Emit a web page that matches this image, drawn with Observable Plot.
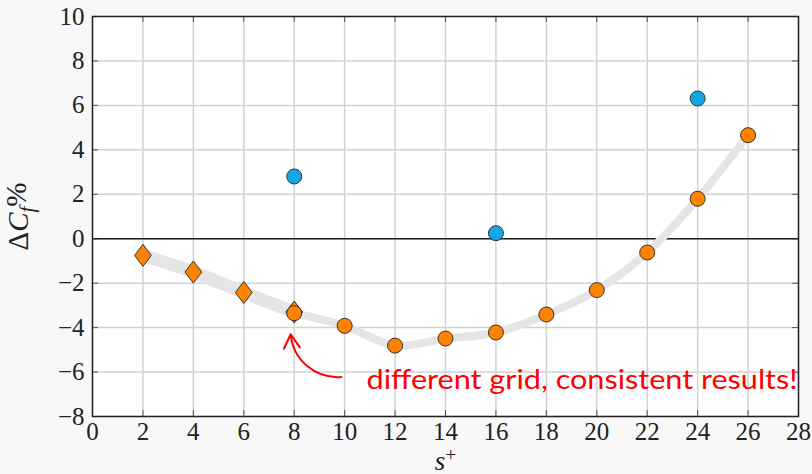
<!DOCTYPE html>
<html>
<head>
<meta charset="utf-8">
<script src="https://cdn.jsdelivr.net/npm/d3@7"></script>
<script src="https://cdn.jsdelivr.net/npm/@observablehq/plot@0.6"></script>
<style>
  html, body { margin: 0; padding: 0; background: #f8f8f8; }
  #chart { width: 812px; height: 474px; }
</style>
</head>
<body>
<div id="chart"></div>
<script>
// ---- data ----
const xTicks = [0, 2, 4, 6, 8, 10, 12, 14, 16, 18, 20, 22, 24, 26, 28];
const yTicks = [-8, -6, -4, -2, 0, 2, 4, 6, 8, 10];

const diamondX = [2, 4, 6, 8];
const diamondY = [-0.75, -1.5, -2.42, -3.3];

const orangeX = [8, 10, 12, 14, 16, 18, 20, 22, 24, 26];
const orangeY = [-3.35, -3.92, -4.81, -4.49, -4.22, -3.41, -2.31, -0.62, 1.8, 4.66];

const blueX = [8, 16, 24];
const blueY = [2.8, 0.25, 6.31];

const noteText = ["different grid, consistent results!"];
const noteX = [10.87];
const noteY = [-6.38];
const arrowFrom = [{x: 9.87, y: -6.22}];
const arrowTo = [{x: 7.86, y: -4.3}];

// ---- build tables ----
const diamonds = diamondX.map((x, i) => ({x, y: diamondY[i]}));
const oranges = orangeX.map((x, i) => ({x, y: orangeY[i]}));
const blues = blueX.map((x, i) => ({x, y: blueY[i]}));
const notes = noteText.map((t, i) => ({t, x: noteX[i], y: noteY[i]}));
const arrows = arrowFrom.map((a, i) => ({x1: a.x, y1: a.y, x2: arrowTo[i].x, y2: arrowTo[i].y}));

const ORANGE = "#ff8200";
const BLUE = "#12a6e4";
const BAND = "#e5e5e5";
const fmt = d3.format("d");

const diamondSymbol = {
  draw(ctx, size) {
    const r = Math.sqrt(size / Math.PI);
    const hw = r * 1.12, hh = r * 1.47;
    ctx.moveTo(0, -hh); ctx.lineTo(hw, 0); ctx.lineTo(0, hh); ctx.lineTo(-hw, 0); ctx.closePath();
  }
};

const W = 812, H = 474, ML = 92, MR = 14, MT = 16, MB = 58;
const PW = W - ML - MR, PH = H - MT - MB;

const chart = Plot.plot({
  width: W, height: H,
  marginLeft: ML, marginRight: MR, marginTop: MT, marginBottom: MB,
  style: {fontFamily: "'Liberation Serif', 'DejaVu Serif', serif", fontSize: "25px", color: "#222", background: "transparent", overflow: "visible"},
  x: {domain: [0, 28], ticks: xTicks, tickSize: 0, tickPadding: 6, tickFormat: fmt, label: "s+", labelAnchor: "center", labelOffset: 53, labelArrow: "none"},
  y: {domain: [-8, 10], ticks: yTicks, tickSize: 0, tickPadding: 8, tickFormat: fmt, label: "ΔCf%", labelAnchor: "center", labelOffset: 85, labelArrow: "none"},
  marks: [
    Plot.frame({fill: "white"}),
    Plot.gridX(xTicks, {stroke: "#d2d2d2", strokeOpacity: 1, strokeWidth: 1.5}),
    Plot.gridY(yTicks, {stroke: "#d2d2d2", strokeOpacity: 1, strokeWidth: 1.5}),
    Plot.tickX(xTicks, {x: d => d, insetTop: PH - 6, stroke: "#555", strokeWidth: 1}),
    Plot.tickX(xTicks, {x: d => d, insetBottom: PH - 6, stroke: "#555", strokeWidth: 1}),
    Plot.tickY(yTicks, {y: d => d, insetRight: PW - 6, stroke: "#555", strokeWidth: 1}),
    Plot.tickY(yTicks, {y: d => d, insetLeft: PW - 6, stroke: "#555", strokeWidth: 1}),
    Plot.ruleY([0], {stroke: "#222", strokeWidth: 1.6}),
    Plot.line(diamonds, {x: "x", y: "y", stroke: BAND, strokeWidth: 13, curve: "catmull-rom"}),
    Plot.line(oranges, {x: "x", y: "y", stroke: BAND, strokeWidth: 8, curve: "catmull-rom"}),
    Plot.dot(diamonds, {x: "x", y: "y", symbol: diamondSymbol, r: 7.5, fill: ORANGE, stroke: "#333", strokeWidth: 1}),
    Plot.dot(oranges, {x: "x", y: "y", r: 7.5, fill: ORANGE, stroke: "#333", strokeWidth: 1}),
    Plot.dot(blues, {x: "x", y: "y", r: 7.5, fill: BLUE, stroke: "#333", strokeWidth: 1}),
    Plot.frame({stroke: "#222", strokeWidth: 1.5}),
    Plot.arrow(arrows, {x1: "x1", y1: "y1", x2: "x2", y2: "y2", bend: 45, stroke: "#ff0000", strokeWidth: 2, headLength: 12}),
    Plot.text(notes, {x: "x", y: "y", text: "t", textAnchor: "start", fill: "#ff0000", fontFamily: "Lato, 'Open Sans', sans-serif", fontSize: 26, className: "note"})
  ]
});

document.getElementById("chart").appendChild(chart);

// styled axis labels
const svg = d3.select(chart);
svg.selectAll("text").each(function () {
  const t = this.textContent;
  if (t === "s+") {
    this.setAttribute("font-size", "27");
    this.innerHTML = '<tspan font-style="italic">s</tspan><tspan font-size="0.72em" dy="-0.45em">+</tspan>';
  } else if (t === "ΔCf%") {
    this.setAttribute("font-size", "29");
    this.innerHTML = '<tspan>Δ</tspan><tspan font-style="italic">C</tspan><tspan font-style="italic" font-size="0.72em" dy="0.3em">f</tspan><tspan dy="-0.3em">%</tspan>';
  }
});
svg.selectAll("g.note text, .note text").attr("textLength", 431).attr("lengthAdjust", "spacingAndGlyphs");
</script>
</body>
</html>
